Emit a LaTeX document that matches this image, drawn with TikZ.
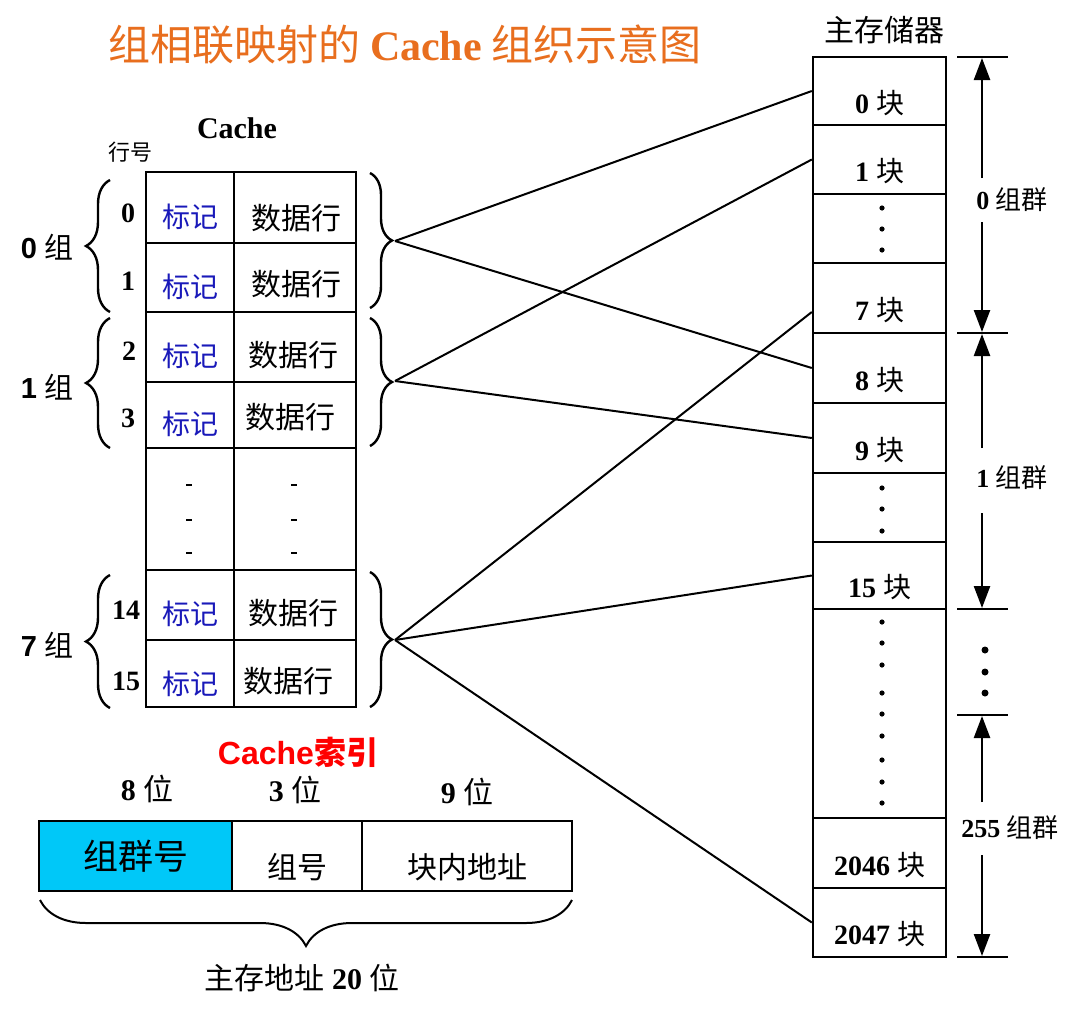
\documentclass[tikz,border=0pt]{standalone}
\usepackage{fontspec}
\setmainfont{Liberation Serif}
\newfontfamily\cjk{Noto Sans CJK SC}
\newfontfamily\arial{Liberation Sans}
\usetikzlibrary{arrows.meta,decorations.pathreplacing}

\definecolor{titleorange}{RGB}{232,110,30}
\definecolor{tagblue}{RGB}{25,25,185}
\definecolor{fieldblue}{RGB}{0,200,248}
\newcommand{\fsz}[1]{\fontsize{#1}{#1}\selectfont}

\begin{document}
\begin{tikzpicture}[x=1pt,y=-1pt,
  cell/.style={line width=2.4pt},
  blk/.style={draw, line width=2.4pt, minimum width=133pt, inner sep=0pt},
  blktxt/.style={yshift=-12pt, font=\fsz{28}},
  link/.style={line width=2pt},
  dim/.style={line width=2.4pt, -{Triangle[length=22pt,width=16pt]}},
  fld/.style={draw, line width=2.2pt, minimum height=70pt, inner sep=0pt},
  lowtxt/.style={yshift=-11pt, font=\fsz{30}}]
\useasboundingbox (0,0) rectangle (1067,1009);

% title
\node[font=\fsz{42}, text=titleorange] (title) at (405,45)
  {\cjk 组相联映射的 {\rmfamily\bfseries Cache} 组织示意图};

% cache table
\node[font=\fsz{30}\bfseries] (cachehd) at (237,128) {Cache};
\node[font=\fsz{22}] (rowhd) at (130,152) {\cjk 行号};
\draw[cell] (146,172) rectangle (356,707);
\draw[cell] (234,172) -- (234,707);
\draw[cell] (146,243) -- (356,243);
\draw[cell] (146,312) -- (356,312);
\draw[cell] (146,382) -- (356,382);
\draw[cell] (146,448) -- (356,448);
\draw[cell] (146,570) -- (356,570);
\draw[cell] (146,640) -- (356,640);

\node[font=\fsz{28}\bfseries] (r0) at (128,213) {0};
\node[font=\fsz{28}\bfseries] (r1) at (128,281) {1};
\node[font=\fsz{28}\bfseries] (r2) at (129,351) {2};
\node[font=\fsz{28}\bfseries] (r3) at (128,418) {3};
\node[font=\fsz{28}\bfseries] (r14) at (126,610) {14};
\node[font=\fsz{28}\bfseries] (r15) at (126,681) {15};

\node[font=\fsz{28}, text=tagblue] (tag0) at (190,217) {\cjk 标记};
\node[font=\fsz{28}, text=tagblue] (tag1) at (190,287) {\cjk 标记};
\node[font=\fsz{28}, text=tagblue] (tag2) at (190,356) {\cjk 标记};
\node[font=\fsz{28}, text=tagblue] (tag3) at (190,424) {\cjk 标记};
\node[font=\fsz{28}, text=tagblue] (tag14) at (190,614) {\cjk 标记};
\node[font=\fsz{28}, text=tagblue] (tag15) at (190,684) {\cjk 标记};

\node[font=\fsz{30}] (dat0) at (296,218) {\cjk 数据行};
\node[font=\fsz{30}] (dat1) at (296,284) {\cjk 数据行};
\node[font=\fsz{30}] (dat2) at (293,355) {\cjk 数据行};
\node[font=\fsz{30}] (dat3) at (290,417) {\cjk 数据行};
\node[font=\fsz{30}] (dat14) at (293,613) {\cjk 数据行};
\node[font=\fsz{30}] (dat15) at (288,681) {\cjk 数据行};

\draw[line width=2.5pt] (186,485) -- (192,485);
\draw[line width=2.5pt] (186,520) -- (192,520);
\draw[line width=2.5pt] (186,553) -- (192,553);
\draw[line width=2.5pt] (291,485) -- (297,485);
\draw[line width=2.5pt] (291,520) -- (297,520);
\draw[line width=2.5pt] (291,553) -- (297,553);

% group braces
\draw[line width=2.4pt, decorate, decoration={brace, amplitude=24pt}] (110,312) -- (110,180);
\draw[line width=2.4pt, decorate, decoration={brace, amplitude=24pt}] (110,448) -- (110,318);
\draw[line width=2.4pt, decorate, decoration={brace, amplitude=24pt}] (110,708) -- (110,575);
\node[font=\fsz{29}] (g0) at (47,247) {{\arial\bfseries 0} \cjk 组};
\node[font=\fsz{29}] (g1) at (47,387) {{\arial\bfseries 1} \cjk 组};
\node[font=\fsz{29}] (g7) at (47,645) {{\arial\bfseries 7} \cjk 组};

\draw[line width=2.4pt, decorate, decoration={brace, amplitude=22pt}] (370,173) -- (370,308);
\draw[line width=2.4pt, decorate, decoration={brace, amplitude=22pt}] (370,318) -- (370,446);
\draw[line width=2.4pt, decorate, decoration={brace, amplitude=22pt}] (370,572) -- (370,707);
\coordinate (c0) at (395,241);
\coordinate (c1) at (395,381);
\coordinate (c7) at (395,640);

% main memory
\node[font=\fsz{30}] (memhd) at (884,30) {\cjk 主存储器};
\node[blk, minimum height=68pt, label={[blktxt]center:{\bfseries 0} \cjk 块}] (m0) at (879.5,91) {};
\node[blk, minimum height=69pt, label={[blktxt]center:{\bfseries 1} \cjk 块}] (m1) at (879.5,159.5) {};
\node[blk, minimum height=69pt] (md1) at (879.5,228.5) {};
\node[blk, minimum height=70pt, label={[blktxt]center:{\bfseries 7} \cjk 块}] (m7) at (879.5,298) {};
\node[blk, minimum height=70pt, label={[blktxt]center:{\bfseries 8} \cjk 块}] (m8) at (879.5,368) {};
\node[blk, minimum height=70pt, label={[blktxt]center:{\bfseries 9} \cjk 块}] (m9) at (879.5,438) {};
\node[blk, minimum height=69pt] (md2) at (879.5,507.5) {};
\node[blk, minimum height=67pt, label={[blktxt]center:{\bfseries 15} \cjk 块}] (m15) at (879.5,575.5) {};
\node[blk, minimum height=209pt] (md3) at (879.5,713.5) {};
\node[blk, minimum height=70pt, label={[blktxt]center:{\bfseries 2046} \cjk 块}] (m2046) at (879.5,853) {};
\node[blk, minimum height=69pt, label={[blktxt]center:{\bfseries 2047} \cjk 块}] (m2047) at (879.5,922.5) {};

\fill (882,208) circle[radius=2.6pt];
\fill (882,229) circle[radius=2.6pt];
\fill (882,250) circle[radius=2.6pt];
\fill (882,488) circle[radius=2.6pt];
\fill (882,509) circle[radius=2.6pt];
\fill (882,531) circle[radius=2.6pt];
\fill (882,622) circle[radius=2.6pt];
\fill (882,643) circle[radius=2.6pt];
\fill (882,665) circle[radius=2.6pt];
\fill (882,693) circle[radius=2.6pt];
\fill (882,714) circle[radius=2.6pt];
\fill (882,736) circle[radius=2.6pt];
\fill (882,760) circle[radius=2.6pt];
\fill (882,782) circle[radius=2.6pt];
\fill (882,803) circle[radius=2.6pt];

% mapping lines
\draw[link] (c0) -- (m0.west);
\draw[link] (c0) -- (m8.west);
\draw[link] (c1) -- (m1.west);
\draw[link] (c1) -- (m9.west);
\draw[link] (c7) -- ([yshift=-14pt]m7.west);
\draw[link] (c7) -- (m15.west);
\draw[link] (c7) -- (m2047.west);

% group ranges
\draw[line width=2.4pt] (957,57) -- (1008,57);
\draw[line width=2.4pt] (957,333) -- (1008,333);
\draw[line width=2.4pt] (957,609) -- (1008,609);
\draw[line width=2.4pt] (957,715) -- (1008,715);
\draw[line width=2.4pt] (957,957) -- (1008,957);
\draw[dim] (982,178) -- (982,58);
\draw[dim] (982,222) -- (982,332);
\draw[dim] (982,448) -- (982,334);
\draw[dim] (982,513) -- (982,608);
\draw[dim] (982,802) -- (982,716);
\draw[dim] (982,855) -- (982,956);
\node[font=\fsz{26}] (grp0) at (1012,200) {{\bfseries 0} \cjk 组群};
\node[font=\fsz{26}] (grp1) at (1012,478) {{\bfseries 1} \cjk 组群};
\node[font=\fsz{26}] (grp255) at (1010,828) {{\bfseries 255} \cjk 组群};
\fill (985,650) circle[radius=3.5pt];
\fill (985,672) circle[radius=3.5pt];
\fill (985,693) circle[radius=3.5pt];

% address format
\node[text=red, font=\fsz{32}\arial\bfseries] (idx) at (298,752) {Cache{\cjk 索引}};
\node[font=\fsz{30}] (w8) at (147,789) {{\bfseries 8} \cjk 位};
\node[font=\fsz{30}] (w3) at (295,790) {{\bfseries 3} \cjk 位};
\node[font=\fsz{30}] (w9) at (467,792) {{\bfseries 9} \cjk 位};
\node[fld, fill=fieldblue, minimum width=193pt, font=\fsz{35}] (fa) at (135.5,856) {\cjk 组群号};
\node[fld, minimum width=130pt, label={[lowtxt]center:\cjk 组号}] (fb) at (297,856) {};
\node[fld, minimum width=210pt, label={[lowtxt]center:\cjk 块内地址}] (fc) at (467,856) {};
\draw[line width=2pt, decorate, decoration={brace, amplitude=46pt}] (572,900) -- (40,900);
\node[font=\fsz{30}] (addr) at (302,978) {{\cjk 主存地址} {\bfseries 20} \cjk 位};
\end{tikzpicture}
\end{document}
